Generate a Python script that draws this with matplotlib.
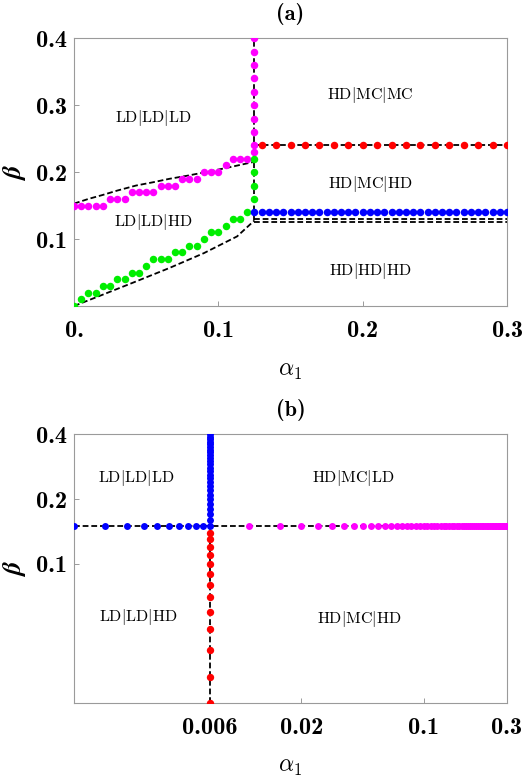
import numpy as np
import matplotlib
matplotlib.use("Agg")
import matplotlib.pyplot as plt
from matplotlib.ticker import FixedLocator, FixedFormatter, NullLocator
from matplotlib.font_manager import FontProperties

plt.rcParams['mathtext.fontset'] = 'cm'
plt.rcParams['font.family'] = 'DejaVu Serif'

# ---------------- Panel (a) data ----------------
mag_a_x = [0, 0.005, 0.01, 0.015, 0.02, 0.025, 0.03, 0.035, 0.04, 0.045, 0.05, 0.055,
           0.06, 0.065, 0.07, 0.075, 0.08, 0.085, 0.09, 0.095, 0.10, 0.105, 0.11, 0.115, 0.12,
           0.125, 0.125, 0.125, 0.125, 0.125, 0.125, 0.125, 0.125, 0.125, 0.125]
mag_a_y = [0.15, 0.15, 0.15, 0.15, 0.15, 0.16, 0.16, 0.16, 0.17, 0.17, 0.17, 0.17,
           0.18, 0.18, 0.18, 0.19, 0.19, 0.19, 0.20, 0.20, 0.20, 0.21, 0.22, 0.22, 0.22,
           0.23, 0.24, 0.26, 0.28, 0.30, 0.32, 0.34, 0.36, 0.38, 0.40]

grn_a_x = [0, 0.005, 0.01, 0.015, 0.02, 0.025, 0.03, 0.035, 0.04, 0.045, 0.05, 0.055,
           0.06, 0.065, 0.07, 0.075, 0.08, 0.085, 0.09, 0.095, 0.10, 0.105, 0.11, 0.115, 0.12,
           0.125, 0.125, 0.125, 0.125]
grn_a_y = [0.0, 0.01, 0.02, 0.02, 0.03, 0.03, 0.04, 0.04, 0.05, 0.05, 0.06, 0.07,
           0.07, 0.07, 0.08, 0.08, 0.09, 0.09, 0.10, 0.11, 0.11, 0.12, 0.13, 0.13, 0.14,
           0.16, 0.18, 0.20, 0.22]

red_a_x = [0.13, 0.14, 0.15, 0.16, 0.17, 0.18, 0.19, 0.20, 0.21, 0.22, 0.23, 0.24,
           0.25, 0.26, 0.27, 0.28, 0.29, 0.30]
red_a_beta = 0.24

blue_a_x = [0.125, 0.13, 0.135, 0.14, 0.145, 0.15, 0.155, 0.16, 0.165, 0.17, 0.175, 0.18,
            0.185, 0.19, 0.195, 0.20, 0.205, 0.21, 0.215, 0.22, 0.225, 0.23, 0.235, 0.24,
            0.245, 0.25, 0.255, 0.26, 0.265, 0.27, 0.275, 0.28, 0.285, 0.29, 0.295, 0.30]
blue_a_beta = 0.14

# theory (dashed) curves, panel (a)
upper_x = [0.0, 0.01, 0.02, 0.03, 0.043, 0.055, 0.066, 0.078, 0.09, 0.106, 0.125]
upper_y = [0.153, 0.160, 0.166, 0.1725, 0.180, 0.185, 0.190, 0.1945, 0.1995, 0.2065, 0.2155]
lower_x = [0.0, 0.02, 0.043, 0.066, 0.09, 0.113, 0.125]
lower_y = [0.0, 0.017, 0.0367, 0.0567, 0.079, 0.104, 0.1278]
alpha_c = 0.125
vert_a_y = [0.128, 0.40]
horiz_a_x = [0.125, 0.30]
horiz_a_levels = [0.24, 0.1303, 0.1258]

labels_a = ["LD|LD|LD", "HD|MC|MC", "HD|MC|HD", "LD|LD|HD", "HD|HD|HD"]
labels_a_x = [0.055, 0.205, 0.205, 0.055, 0.205]
labels_a_y = [0.281, 0.316, 0.182, 0.125, 0.052]

xticks_a = [0.0, 0.1, 0.2, 0.3]
xticklabels_a = ["0.", "0.1", "0.2", "0.3"]
yticks_a = [0.1, 0.2, 0.3, 0.4]
yticklabels_a = ["0.1", "0.2", "0.3", "0.4"]

# ---------------- Panel (b) data ----------------
blue_b_x = [0.001, 0.0015, 0.002, 0.0025, 0.003, 0.0035, 0.004, 0.0045, 0.005, 0.0055] + [0.006] * 26
blue_b_y = [0.15] * 10 + [0.15, 0.16, 0.17, 0.18, 0.19, 0.20, 0.21, 0.22, 0.23, 0.24, 0.25, 0.26,
                          0.27, 0.28, 0.29, 0.30, 0.31, 0.32, 0.33, 0.34, 0.35, 0.36, 0.37, 0.38,
                          0.39, 0.40]
red_b_x = [0.006] * 13
red_b_y = [0.14, 0.13, 0.12, 0.11, 0.10, 0.09, 0.08, 0.07, 0.06, 0.05, 0.04, 0.03, 0.0227]
mag_b_x = [0.01, 0.015, 0.02, 0.025, 0.03, 0.035, 0.04, 0.045, 0.05, 0.055, 0.06, 0.065, 0.07,
           0.075, 0.08, 0.085, 0.09, 0.095, 0.10, 0.105, 0.11, 0.115, 0.12, 0.125, 0.13, 0.135,
           0.14, 0.145, 0.15, 0.155, 0.16, 0.165, 0.17, 0.175, 0.18, 0.185, 0.19, 0.195, 0.20,
           0.205, 0.21, 0.215, 0.22, 0.225, 0.23, 0.235, 0.24, 0.245, 0.25, 0.255, 0.26, 0.265,
           0.27, 0.275, 0.28, 0.285, 0.29, 0.295, 0.30]
mag_b_beta = 0.15
alpha_b_c = 0.006
beta_b_c = 0.15
xlim_b = [0.001, 0.3]
ylim_b = [0.0227, 0.4]

labels_b = ["LD|LD|LD", "HD|MC|LD", "LD|LD|HD", "HD|MC|HD"]
labels_b_x = [0.00226, 0.0395, 0.00233, 0.0426]
labels_b_y = [0.252, 0.252, 0.0569, 0.0553]

xticks_b = [0.006, 0.02, 0.1, 0.3]
xticklabels_b = ["0.006", "0.02", "0.1", "0.3"]
yticks_b = [0.1, 0.2, 0.4]
yticklabels_b = ["0.1", "0.2", "0.4"]

# ---------------- Figure ----------------
fig = plt.figure(figsize=(5.24, 7.82), dpi=100)
ax1 = fig.add_axes([74/524, 1-306/782, (507-74)/524, (306-38.3)/782])
ax2 = fig.add_axes([74/524, 1-702.7/782, (507-74)/524, (702.7-434.3)/782])

dash_kw = dict(color='black', lw=1.3, dashes=(3.2, 1.6), zorder=2)
ms_a = 5.4
ms_b = 5.0
BOLD = 'cmb10'
title_fp = FontProperties(family=BOLD, size=16)


def fmt_label(s):
    parts = s.split("|")
    return r"$\mathrm{" + parts[0] + r"}\mathbf{|}\mathrm{" + parts[1] + r"}\mathbf{|}\mathrm{" + parts[2] + r"}$"


def style_axes(ax):
    for sp in ax.spines.values():
        sp.set_color('#9a9a9a')
        sp.set_linewidth(0.8)
    ax.tick_params(direction='in', length=3.5, width=0.7, color='#9a9a9a', labelsize=17.5)
    ax.tick_params(axis='x', pad=10)
    ax.tick_params(axis='y', pad=5)
    ax.tick_params(which='minor', length=0)
    for lab in ax.get_xticklabels() + ax.get_yticklabels():
        lab.set_family(BOLD)


# Panel (a)
ax1.plot(upper_x, upper_y, **dash_kw)
ax1.plot(lower_x, lower_y, **dash_kw)
ax1.plot([alpha_c, alpha_c], vert_a_y, **dash_kw)
for lev in horiz_a_levels:
    ax1.plot(horiz_a_x, [lev, lev], **dash_kw)
ax1.plot(mag_a_x, mag_a_y, 'o', color='#ff00ff', ms=ms_a, mew=0, zorder=3)
ax1.plot(grn_a_x, grn_a_y, 'o', color='#00ee00', ms=ms_a, mew=0, zorder=3)
ax1.plot(red_a_x, [red_a_beta] * len(red_a_x), 'o', color='#ff0000', ms=ms_a, mew=0, zorder=3)
ax1.plot(blue_a_x, [blue_a_beta] * len(blue_a_x), 'o', color='#0000ff', ms=ms_a, mew=0, zorder=3)
for s, x, y in zip(labels_a, labels_a_x, labels_a_y):
    ax1.text(x, y, fmt_label(s), ha='center', va='center', fontsize=11.5)
ax1.set_xlim(0, 0.3)
ax1.set_ylim(0, 0.4)
ax1.xaxis.set_major_locator(FixedLocator(xticks_a))
ax1.xaxis.set_major_formatter(FixedFormatter(xticklabels_a))
ax1.yaxis.set_major_locator(FixedLocator(yticks_a))
ax1.yaxis.set_major_formatter(FixedFormatter(yticklabels_a))
style_axes(ax1)
ax1.set_xlabel(r"$\alpha_1$", fontsize=17, labelpad=12)
ax1.set_ylabel(r"$\boldsymbol{\beta}$", fontsize=19, labelpad=6)
ax1.set_title("(a)", fontproperties=title_fp, pad=13)

# Panel (b)
ax2.set_xscale('log')
ax2.set_yscale('log')
ax2.plot(xlim_b, [beta_b_c, beta_b_c], **dash_kw)
ax2.plot([alpha_b_c, alpha_b_c], ylim_b, **dash_kw)
ax2.plot(mag_b_x, [mag_b_beta] * len(mag_b_x), 'o', color='#ff00ff', ms=ms_b, mew=0, zorder=3)
ax2.plot(blue_b_x, blue_b_y, 'o', color='#0000ff', ms=ms_b, mew=0, zorder=3)
ax2.plot(red_b_x, red_b_y, 'o', color='#ff0000', ms=ms_b + 0.3, mew=0, zorder=3)
for s, x, y in zip(labels_b, labels_b_x, labels_b_y):
    ax2.text(x, y, fmt_label(s), ha='center', va='center', fontsize=11.5)
ax2.set_xlim(*xlim_b)
ax2.set_ylim(*ylim_b)
ax2.xaxis.set_major_locator(FixedLocator(xticks_b))
ax2.xaxis.set_major_formatter(FixedFormatter(xticklabels_b))
ax2.xaxis.set_minor_locator(NullLocator())
ax2.yaxis.set_major_locator(FixedLocator(yticks_b))
ax2.yaxis.set_major_formatter(FixedFormatter(yticklabels_b))
ax2.yaxis.set_minor_locator(NullLocator())
style_axes(ax2)
ax2.set_xlabel(r"$\alpha_1$", fontsize=17, labelpad=12)
ax2.set_ylabel(r"$\boldsymbol{\beta}$", fontsize=19, labelpad=6)
ax2.set_title("(b)", fontproperties=title_fp, pad=13)

fig.savefig("out.png", dpi=100)
